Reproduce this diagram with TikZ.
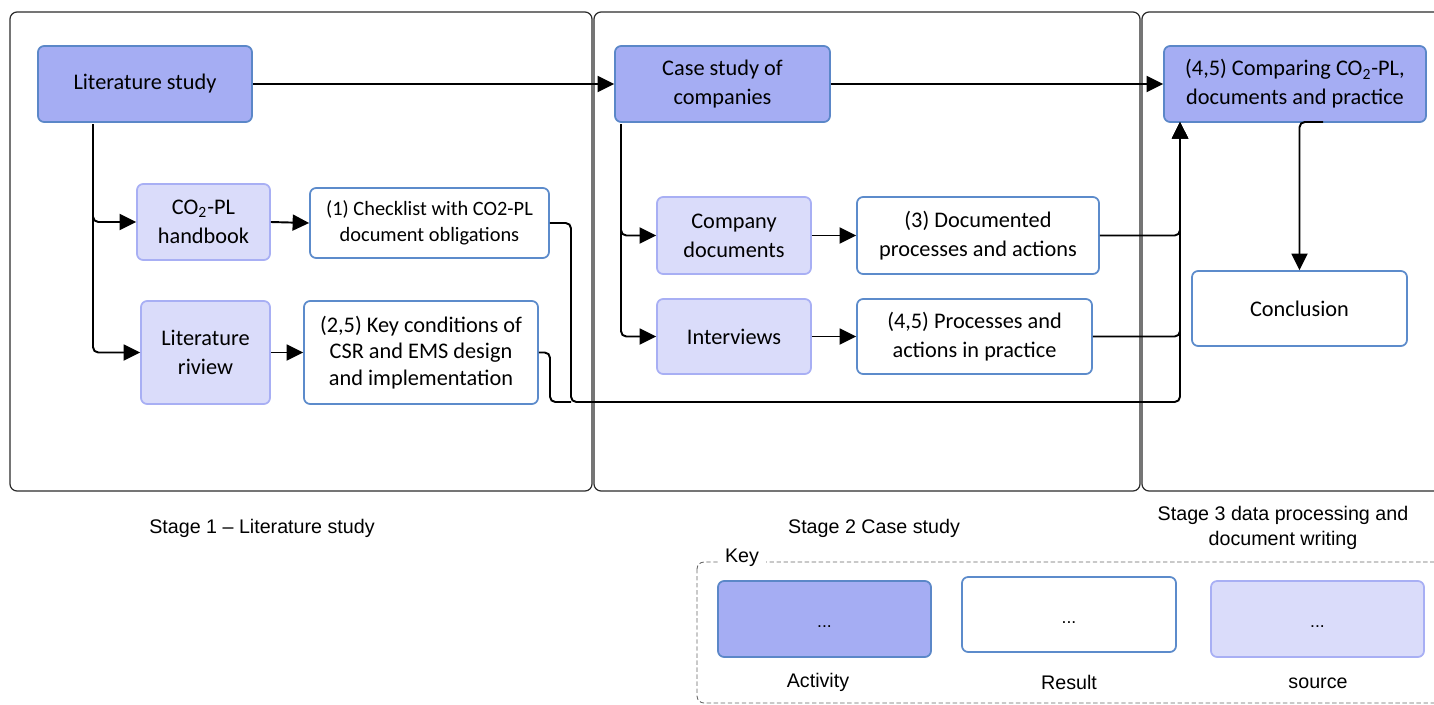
\documentclass[tikz,border=0pt]{standalone}
\usepackage{fontspec}
\setmainfont{Carlito}
\newfontfamily\arialf{Liberation Sans}
\usetikzlibrary{arrows.meta}
\definecolor{actfill}{HTML}{A5ADF3}
\definecolor{actdraw}{HTML}{5B87C8}
\definecolor{srcfill}{HTML}{DADCFA}
\definecolor{srcdraw}{HTML}{A8AFF4}
\definecolor{resdraw}{HTML}{5C8BCB}
\definecolor{panelc}{HTML}{2B2B2B}
\begin{document}
\begin{tikzpicture}[x=0.02cm,y=-0.02cm,
  every node/.style={inner sep=0pt, align=center},
  sz/.style 2 args={minimum width=#1*0.02cm, minimum height=#2*0.02cm},
  nodefont/.style={font=\fontsize{12.7}{16.4}\selectfont},
  activity/.style={draw=actdraw, fill=actfill, line width=1pt, rounded corners=3.5pt, nodefont},
  source/.style={draw=srcdraw, fill=srcfill, line width=1pt, rounded corners=3.5pt, nodefont},
  result/.style={draw=resdraw, fill=white, line width=1pt, rounded corners=3.5pt, nodefont},
  conn/.style={line width=1.1pt, rounded corners=3pt},
  arr/.style={conn, -{Triangle[length=3.3mm,width=3.2mm]}},
  panel/.style={draw=panelc, line width=0.7pt, rounded corners=4pt},
  stage/.style={font=\arialf\fontsize{11.2}{14.2}\selectfont},
  dots/.style={font=\arialf\fontsize{10}{12}\selectfont}
]
\useasboundingbox (0,0) rectangle (1434,704);

% stage panels
\draw[panel] (10,12) rectangle (592,491);
\draw[panel] (594,12) rectangle (1140,491);
\draw[panel] (1142,12) rectangle (1460,491);

% nodes
\node[activity, sz={214}{76}] (lit) at (145,84) {Literature study};
\node[source, sz={133}{76}] (hand) at (203.5,222) {CO\textsubscript{2}-PL\\handbook};
\node[result, sz={239}{70}, font=\fontsize{11.6}{14.5}\selectfont] (check) at (429.5,223) {(1) Checklist with CO2-PL\\document obligations};
\node[source, sz={129}{103}] (riv) at (205.5,352.5) {Literature\\riview};
\node[result, sz={234}{103}, font=\fontsize{12.7}{15.2}\selectfont] (key) at (421,352.5) {(2,5) Key conditions of\\CSR and EMS design\\and implementation};
\node[activity, sz={215}{76}] (case) at (722.5,84) {Case study of\\companies};
\node[source, sz={154}{77}] (cdoc) at (734,235.5) {Company\\documents};
\node[result, sz={242}{77}] (doc3) at (978,235.5) {(3) Documented\\processes and actions};
\node[source, sz={154}{75}] (intv) at (734,336.5) {Interviews};
\node[result, sz={235}{75}] (prac) at (974.5,336.5) {(4,5) Processes and\\actions in practice};
\node[activity, sz={262}{76}] (comp) at (1295,84) {(4,5) Comparing CO\textsubscript{2}-PL,\\documents and practice};
\node[result, sz={215}{75}] (concl) at (1299.5,308.5) {Conclusion};

% helper coordinates
\coordinate (lb) at (93,124);
\coordinate (cb) at (621,124);
\coordinate (bus1) at (571,402);
\coordinate (bus2) at (550,402);
\coordinate (cin) at (1180,122);
\coordinate (cs) at (1323,122);

% connectors
\draw[arr] (lit.east) -- (case.west);
\draw[arr] (case.east) -- (comp.west);
\draw[arr] (lb) |- (hand.west);
\draw[arr] (lb) |- (riv.west);
\draw[arr] (hand.east) -- (check.west);
\draw[arr] (riv.east) -- (key.west);
\draw[arr] (cb) |- (cdoc.west);
\draw[arr] (cb) |- (intv.west);
\draw[arr] (cdoc.east) -- (doc3.west);
\draw[arr] (intv.east) -- (prac.west);
\draw[conn] (key.east) -| (bus2) -- (bus1);
\draw[arr] (check.east) -| (bus1) -| (cin);
\draw[arr] (doc3.east) -| (cin);
\draw[arr] (prac.east) -| (cin);
\draw[arr] (cs) -| (concl.north);

% stage labels
\node[stage] (s1) at (262,528) {Stage 1 – Literature study};
\node[stage] (s2) at (874,528) {Stage 2 Case study};
\node[stage] (s3) at (1283,528) {Stage 3 data processing and\\document writing};

% key
\draw[draw=gray!80!black, line width=0.5pt, dash pattern=on 2.5pt off 1.5pt, rounded corners=4pt] (697,562) rectangle (1460,703);
\node[stage, fill=white, inner xsep=4pt, inner ysep=1pt] (keylbl) at (742,558) {Key};
\node[activity, sz={213}{76}, dots] (ka) at (824.5,619) {\smash{\raisebox{-5pt}{...}}};
\node[result, sz={214}{75}, dots] (kr) at (1069,614.5) {\smash{\raisebox{-5pt}{...}}};
\node[source, sz={213}{76}, dots] (ks) at (1317.5,619) {\smash{\raisebox{-5pt}{...}}};
\node[stage] (la) at (818,682) {Activity};
\node[stage] (lr) at (1069,682) {Result};
\node[stage] (ls) at (1318,683) {source};
\end{tikzpicture}
\end{document}
